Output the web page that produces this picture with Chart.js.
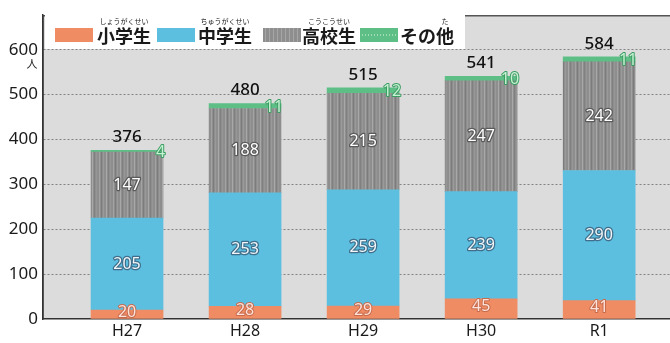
<!DOCTYPE html>
<html><head><meta charset="utf-8">
<script src="https://cdn.jsdelivr.net/npm/chart.js@4/dist/chart.umd.min.js"></script>
<style>html,body{margin:0;padding:0;background:#fff;}#wrap{width:670px;height:343px;position:relative;}</style>
</head><body><div id="wrap"><canvas id="c" width="670" height="343"></canvas></div>
<script>
const categories = ['H27', 'H28', 'H29', 'H30', 'R1'];
const elementary = [20, 28, 29, 45, 41];
const juniorHigh = [205, 253, 259, 239, 290];
const highSchool = [147, 188, 215, 247, 242];
const other = [4, 11, 12, 10, 11];
const totals = [376, 480, 515, 541, 584];
const yTicks = [0, 100, 200, 300, 400, 500, 600];
const seriesNames = ['小学生', '中学生', '高校生', 'その他'];
const seriesRuby = ['しょうがくせい', 'ちゅうがくせい', 'こうこうせい', 'た'];
const unitLabel = '人';

const NUM_FONT = '"Noto Sans", "DejaVu Sans", sans-serif';
const JP_FONT = '"Noto Sans CJK JP", "Noto Sans", sans-serif';

function grayPattern() {
  const c = document.createElement('canvas');
  c.width = 14; c.height = 4;
  const g = c.getContext('2d');
  g.fillStyle = '#8e8e8e'; g.fillRect(0, 0, 14, 4);
  const stripes = [[1,'#a3a3a3'],[3,'#7c7c7c'],[5,'#9a9a9a'],[8,'#a8a8a8'],[10,'#808080'],[12,'#969696']];
  stripes.forEach(([x, col]) => { g.fillStyle = col; g.fillRect(x, 0, 1, 4); });
  return g.createPattern(c, 'repeat');
}
const COLORS = ['#ef8c64', '#5cbfe0', grayPattern(), '#5dbf86'];
const LEGEND_SWATCH = ['#ef8c64', '#5cbfe0', '#8e8e8e', '#5dbf86'];

const toPts = arr => arr.map((v, i) => ({ x: i, y: v }));
const seriesData = [elementary, juniorHigh, highSchool, other];

const bgPlugin = {
  id: 'bg',
  beforeDraw(chart) {
    const { ctx, chartArea: a } = chart;
    ctx.save();
    ctx.fillStyle = '#dcdcdc';
    ctx.fillRect(a.left, a.top, a.right - a.left, a.bottom - a.top);
    ctx.strokeStyle = '#555';
    ctx.lineWidth = 1.5;
    ctx.beginPath();
    ctx.moveTo(a.left, a.bottom); ctx.lineTo(a.left, a.top + 0.5); ctx.lineTo(a.right, a.top + 0.5);
    ctx.stroke();
    ctx.restore();
  }
};

function outlinedText(ctx, txt, x, y, fill, stroke, lw) {
  ctx.lineJoin = 'round';
  ctx.lineWidth = lw;
  ctx.strokeStyle = stroke;
  ctx.strokeText(txt, x, y);
  ctx.fillStyle = fill;
  ctx.fillText(txt, x, y);
}

const labelPlugin = {
  id: 'labels',
  afterDatasetsDraw(chart) {
    const ctx = chart.ctx;
    ctx.save();
    ctx.textBaseline = 'middle';
    ctx.font = '16px ' + NUM_FONT;
    const styles = [
      { fill: '#fde3da', stroke: '#c76a4c' },
      { fill: '#f2f6f8', stroke: '#3f6f8c' },
      { fill: '#ffffff', stroke: '#5a5a5a' },
      { fill: '#c6f2d4', stroke: '#3c9c62' }
    ];
    for (let d = 0; d < 4; d++) {
      const meta = chart.getDatasetMeta(d);
      meta.data.forEach((el, i) => {
        const v = seriesData[d][i];
        const mid = (el.y + el.base) / 2;
        const st = styles[d];
        if (d === 3) {
          ctx.textAlign = 'right';
          outlinedText(ctx, String(v), el.x + el.width / 2 + 2, mid + 1, st.fill, st.stroke, 2);
        } else if (d === 0) {
          ctx.textAlign = 'center';
          outlinedText(ctx, String(v), el.x, mid - 2, st.fill, st.stroke, 2);
        } else {
          ctx.textAlign = 'center';
          outlinedText(ctx, String(v), el.x, mid, st.fill, st.stroke, 2.5);
        }
      });
    }
    const topMeta = chart.getDatasetMeta(3);
    ctx.textAlign = 'center';
    ctx.font = '500 17px ' + NUM_FONT;
    ctx.fillStyle = '#111';
    topMeta.data.forEach((el, i) => {
      ctx.fillText(String(totals[i]), el.x, el.y - 13);
    });
    const ys = chart.scales.y;
    ctx.font = '11px ' + JP_FONT;
    ctx.fillStyle = '#222';
    ctx.textAlign = 'center';
    ctx.fillText(unitLabel, 32, ys.getPixelForValue(600) + 14);
    ctx.restore();
  },
  afterDraw(chart) {
    const ctx = chart.ctx;
    ctx.save();
    ctx.fillStyle = '#ffffff';
    ctx.fillRect(45, 9, 420, 40);
    const items = [
      { sx: 55, tx: 97 },
      { sx: 157, tx: 198 },
      { sx: 263, tx: 302 },
      { sx: 360, tx: 400 }
    ];
    items.forEach((it, k) => {
      ctx.fillStyle = LEGEND_SWATCH[k];
      ctx.fillRect(it.sx, 28, 38, 14);
      if (k === 2) {
        ctx.fillStyle = '#a5a5a5';
        for (let x = it.sx + 2; x < it.sx + 38; x += 4) ctx.fillRect(x, 28, 1, 14);
      }
      if (k === 3) {
        ctx.fillStyle = '#9fdcb6';
        for (let x = it.sx + 2; x < it.sx + 38; x += 3) ctx.fillRect(x, 34, 1, 2);
      }
      ctx.font = 'bold 18px ' + JP_FONT;
      ctx.fillStyle = '#1a1a1a';
      ctx.textAlign = 'left';
      ctx.textBaseline = 'middle';
      ctx.fillText(seriesNames[k], it.tx, 36);
      const w = ctx.measureText(seriesNames[k]).width;
      ctx.font = '7px ' + JP_FONT;
      ctx.textAlign = 'center';
      if (k === 3) {
        ctx.fillText(seriesRuby[k], it.tx + w - 9, 21);
      } else {
        ctx.fillText(seriesRuby[k], it.tx + w / 2, 21);
      }
    });
    ctx.restore();
  }
};

new Chart(document.getElementById('c'), {
  type: 'bar',
  data: {
    datasets: seriesNames.map((name, k) => ({
      label: name,
      data: toPts(seriesData[k]),
      backgroundColor: COLORS[k],
      borderWidth: 0,
      barThickness: 72
    }))
  },
  options: {
    responsive: false,
    animation: false,
    layout: { padding: { top: 7, right: 0, left: 0, bottom: 0 } },
    plugins: { legend: { display: false }, tooltip: { enabled: false } },
    scales: {
      x: {
        type: 'linear',
        stacked: true,
        offset: false,
        min: -0.712,
        max: 4.6,
        afterBuildTicks: s => { s.ticks = categories.map((_, i) => ({ value: i })); },
        afterFit: s => { s.height = 24; },
        ticks: {
          callback: v => categories[v] ?? '',
          font: { family: NUM_FONT, size: 16 },
          color: '#1a1a1a',
          padding: 3,
          maxRotation: 0,
          autoSkip: false
        },
        grid: { display: false, drawTicks: false },
        border: { display: true, color: '#333', width: 1.5 }
      },
      y: {
        stacked: true,
        min: 0,
        max: 677,
        afterBuildTicks: s => { s.ticks = yTicks.map(v => ({ value: v })); },
        afterFit: s => { s.width = 43; },
        ticks: {
          font: { family: NUM_FONT, size: 17 },
          color: '#1a1a1a',
          padding: 5
        },
        grid: {
          drawTicks: false,
          color: ctx => ctx.tick && ctx.tick.value === 0 ? 'rgba(0,0,0,0)' : 'rgba(60,60,60,0.55)',
          lineWidth: 1
        },
        border: { display: true, color: '#333', width: 1.5, dash: [2, 2] }
      }
    }
  },
  plugins: [bgPlugin, labelPlugin]
});
</script></body></html>
